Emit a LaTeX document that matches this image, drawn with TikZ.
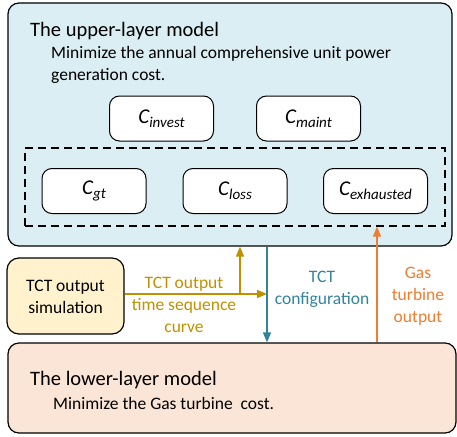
\documentclass[tikz,border=0pt]{standalone}
\usepackage{fontspec}
\setmainfont{Carlito}
\usetikzlibrary{arrows.meta}

\definecolor{upperfill}{HTML}{DAEEF3}
\definecolor{lowerfill}{HTML}{FBE5D6}
\definecolor{simfill}{HTML}{FFF2CC}
\definecolor{curvecol}{HTML}{BF9000}
\definecolor{cfgcol}{HTML}{31849B}
\definecolor{gtcol}{HTML}{ED7D31}

\tikzset{
  layer/.style={draw, line width=1.2pt, rounded corners=11pt, inner sep=0pt},
  costbox/.style={draw, fill=white, line width=1pt, rounded corners=10pt,
    minimum width=104pt, minimum height=45pt, inner sep=0pt},
  flow/.style={line width=1.5pt, -{Triangle[length=10pt,width=8pt]}},
  bigtxt/.style={font=\fontsize{20.5}{24}\selectfont, anchor=base west, inner sep=0pt},
  smalltxt/.style={font=\fontsize{17.5}{22}\selectfont, anchor=base west, inner sep=0pt},
  lbl/.style={font=\fontsize{17.5}{22}\selectfont, align=center, anchor=base, inner sep=0pt}
}
\newcommand{\cost}[1]{\fontsize{21}{24}\selectfont\itshape C\raisebox{-0.35ex}{\fontsize{15}{18}\selectfont #1}}

\begin{document}
\begin{tikzpicture}[x=1pt,y=-1pt]
        \useasboundingbox (0,0) rectangle (457,436);
        % layers
        \node[layer,fill=upperfill,minimum width=444pt,minimum height=243pt] (upper) at (230,124.5){};
        \node[layer,fill=lowerfill,minimum width=448pt,minimum height=90pt] (lower) at (232,388){};
        \node[layer,fill=simfill,rounded corners=12pt,minimum width=117pt,minimum height=76pt] (sim) at (65.5,296){};
        % texts
        \node[bigtxt] (uptitle) at (30,37){The upper-layer model};
        \node[smalltxt] (upgoal1) at (51,59){Minimize the annual comprehensive unit power};
        \node[smalltxt] (upgoal2) at (51,80){generation cost.};
        \node[bigtxt] (lowtitle) at (30,385){The lower-layer model};
        \node[smalltxt] (lowgoal) at (53,409){Minimize the Gas turbine\ \ cost.};
        \node[lbl,text=black] (simtxt) at (65.5,313){TCT output\\simulation};
        % cost terms
        \node[costbox] (invest) at (161.5,118.5){\cost{invest}};
        \node[costbox] (maint) at (308.5,118.5){\cost{maint}};
        \node[draw,line width=1.2pt,dash pattern=on 8pt off 5pt,minimum width=420pt,minimum height=78pt] (group) at (235,187){};
        \node[costbox] (gt) at (94,191){\cost{gt}};
        \node[costbox] (loss) at (235,191){\cost{loss}};
        \node[costbox] (exh) at (375.5,191){\cost{exhausted}};
        % connectors
        \coordinate (split) at (240,294);
        \coordinate (cfg) at (267,294);
        \coordinate (gto) at (377,294);
        \draw[flow,curvecol] (sim.east |- split) -- (cfg);
        \draw[flow,curvecol] (split) -- (split |- upper.south);
        \draw[flow,cfgcol] (cfg |- upper.south) -- (cfg |- lower.north);
        \draw[flow,gtcol] (gto |- lower.north) -- (gto |- group.south);
        % labels
        \node[lbl,text=curvecol] (curvelbl) at (184,332){TCT output\\time sequence\\curve};
        \node[lbl,text=cfgcol] (cfglbl) at (322,304){TCT\\configuration};
        \node[lbl,text=gtcol] (gtlbl) at (418,322){Gas\\turbine\\output};
    \end{tikzpicture}
\end{document}
